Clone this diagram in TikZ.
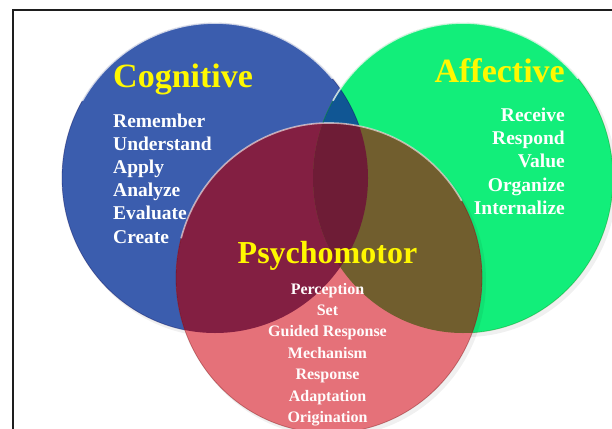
\documentclass[tikz,border=0pt]{standalone}
\usepackage{fontspec}
\setmainfont{Liberation Serif}
\definecolor{cogblue}{RGB}{59,93,174}
\definecolor{affgreen}{RGB}{18,238,122}
\definecolor{bgteal}{RGB}{16,86,148}
\definecolor{psypink}{RGB}{229,113,121}
\definecolor{rbmaroon}{RGB}{131,31,66}
\definecolor{rgolive}{RGB}{113,94,46}
\definecolor{rbgdark}{RGB}{110,28,54}
\definecolor{titleyellow}{RGB}{255,248,0}
\definecolor{framegray}{RGB}{30,30,30}
\begin{document}
\begin{tikzpicture}[x=1pt,y=-1pt,
  title/.style={font=\bfseries\fontsize{34}{40}\selectfont, text=titleyellow, inner sep=0pt},
  titlesmall/.style={font=\bfseries\fontsize{32}{38}\selectfont, text=titleyellow, inner sep=0pt},
  item/.style={font=\bfseries\fontsize{19.5}{23}\selectfont, text=white, inner sep=0pt},
  itemsmall/.style={font=\bfseries\fontsize{16}{20}\selectfont, text=white!96!pink, inner sep=0pt},
  rim/.style={draw=white, line width=1.6pt, opacity=0.75, line cap=round},
  edge/.style={line width=0.8pt, opacity=0.35},
  frameline/.style={draw=framegray, line width=2.4pt}]
\useasboundingbox (0,0) rectangle (612,428);
\clip (0,0) rectangle (612,428);
\fill[white] (0,0) rectangle (612,428);
\coordinate (bc) at (215,178);
\coordinate (gc) at (463,178);
\coordinate (rc) at (329,278);
\def\cogE{(bc) ellipse [x radius=153pt, y radius=155pt]}
\def\affE{(gc) ellipse [x radius=150pt, y radius=155pt]}
\def\psyE{(rc) ellipse [x radius=153pt, y radius=155pt]}
% soft shadows
\fill[black, opacity=0.06] ([shift={(3pt,-3pt)}]bc) ellipse [x radius=154pt, y radius=156pt];
\fill[black, opacity=0.06] ([shift={(3pt,-3pt)}]gc) ellipse [x radius=151pt, y radius=156pt];
% blue and green
\fill[cogblue] \cogE;
\fill[affgreen] \affE;
\begin{scope}
  \clip \cogE;
  \fill[bgteal] \affE;
\end{scope}
\draw[edge, draw=black!70!blue] \cogE;
\draw[edge, draw=black!50!green] \affE;
\draw[rim] ([shift={(150:153pt and 155pt)}]bc) arc[start angle=150, end angle=40, x radius=153pt, y radius=155pt];
\draw[rim] ([shift={(150:150pt and 155pt)}]gc) arc[start angle=150, end angle=40, x radius=150pt, y radius=155pt];
% red
\fill[black, opacity=0.06] ([shift={(3pt,-3pt)}]rc) ellipse [x radius=154pt, y radius=156pt];
\fill[psypink] \psyE;
\begin{scope}
  \clip \psyE;
  \fill[rbmaroon] \cogE;
  \fill[rgolive] \affE;
  \clip \cogE;
  \fill[rbgdark] \affE;
\end{scope}
\draw[edge, draw=black!60!red] \psyE;
\draw[rim, opacity=0.6] ([shift={(165:153pt and 155pt)}]rc) arc[start angle=165, end angle=30, x radius=153pt, y radius=155pt];
% titles
\node[title, anchor=base west] (cogt) at (113,87) {Cognitive};
\node[title, anchor=base east] (afft) at (565,82) {Affective};
\node[titlesmall, anchor=base] (psyt) at (327.5,263) {Psychomotor};
% lists
\foreach \t [count=\i] in {Remember,Understand,Apply,Analyze,Evaluate,Create}
  \node[item, anchor=base west] (cog\i) at (113,{127+23.2*(\i-1)}) {\t};
\foreach \t [count=\i] in {Receive,Respond,Value,Organize,Internalize}
  \node[item, anchor=base east] (aff\i) at (565,{121+23.4*(\i-1)}) {\t};
\foreach \t [count=\i] in {Perception,Set,Guided Response,Mechanism,Response,Adaptation,Origination}
  \node[itemsmall, anchor=base] (psy\i) at (327.5,{294+21.4*(\i-1)}) {\t};
% frame
\draw[frameline] (13,430) -- (13,10) -- (614,10);
\end{tikzpicture}
\end{document}
